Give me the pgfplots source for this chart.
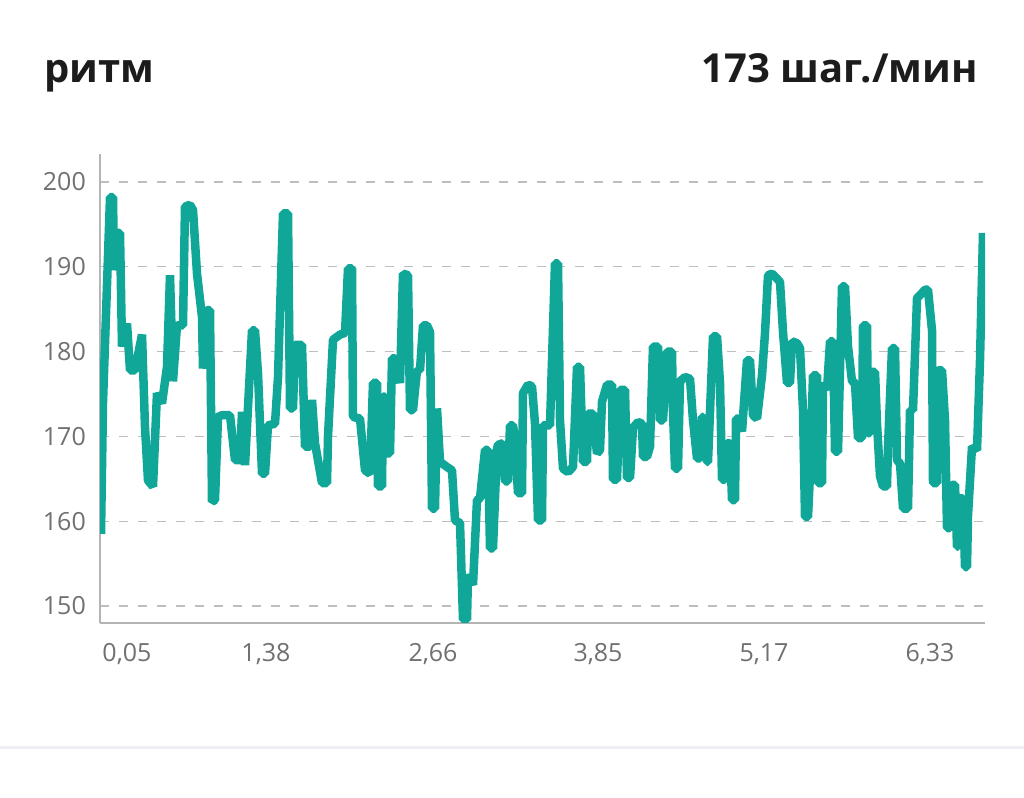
\documentclass[border=0pt]{standalone}
\usepackage{fontspec}
\setmainfont{Open Sans}
\usepackage{pgfplots}
\usepackage{pgfplotstable}
\pgfplotsset{compat=1.18}

\definecolor{cadence}{RGB}{16,167,153}
\definecolor{tickgray}{RGB}{112,112,112}
\definecolor{axisgray}{RGB}{180,180,180}
\definecolor{gridgray}{RGB}{190,190,190}
\definecolor{rulegray}{RGB}{238,240,243}
\definecolor{titleink}{RGB}{28,28,28}

% x = horizontal position on the run (screen units), y = steps per minute
\pgfplotstableread{
x y
101 158.5
103 174
110 198.2
113 198.2
114 189.6
118 194
120 194
122 180.6
127 183.3
130 177.8
135 177.8
142 182
145 171.1
148 164.8
153 164.1
157 175.1
162 173.9
167 178.2
170 189
173 176.5
177 183.1
183 183.1
185 197.1
190 197.3
193 196.7
197 189.2
202 184.1
203 178
207 184.9
210 184.9
212 162.3
215 162.5
218 172.3
222 172.5
230 172.5
235 167.2
240 167.2
242 172.9
245 166.6
252 182.5
255 182.5
258 177.4
262 165.6
265 165.6
268 171.3
275 171.5
278 177
283 196.3
288 196.3
290 173.3
293 173.3
295 180.8
302 180.8
305 168.8
310 168.8
312 174.3
315 169.2
322 164.5
327 164.5
328 170
333 181.4
340 182
345 182.2
348 189.8
352 189.8
353 172.3
360 172.1
365 166
370 165.6
373 176.3
377 176.3
378 164.1
382 164.1
383 174.7
385 174.7
387 168
390 168
392 179.2
395 179.2
400 176.3
403 189.2
408 189
410 173.1
413 173.1
417 177.8
420 177.8
423 183.1
427 183.1
430 182.3
432 161.5
435 161.5
437 173.3
440 167
447 166.4
452 166
455 160.1
460 159.8
463 148.4
467 148.4
468 153.7
473 152.5
477 162.5
480 162.7
485 168.4
488 168.4
490 156.8
493 156.8
497 168.6
498 169
503 169.2
505 164.7
508 164.7
510 171.3
513 171.3
515 169.6
518 163.3
522 163.3
523 175.1
528 176.1
532 175.9
535 171.5
538 160.1
542 160.1
543 171.3
550 171.3
555 190.4
558 190.4
560 171.9
563 166.2
568 165.8
573 166.4
577 178.2
580 178.2
583 167
587 167
588 172.7
593 172.7
597 168
600 168.4
602 174.1
607 176.1
612 176.1
613 164.9
617 164.9
620 175.5
625 175.5
627 165.1
630 165.1
633 171
638 171.7
642 171.5
643 167.6
647 167.6
650 168.8
653 180.6
658 180.6
660 171.9
663 171.9
667 180
672 180
673 172.9
675 166.2
678 166.2
680 176.5
685 177
690 176.8
693 171.9
697 167.4
700 167.4
702 172.3
703 172.3
707 167
708 167
713 181.8
717 181.8
720 176.3
722 164.9
725 164.9
727 169.2
730 169.2
732 162.5
735 162.5
736 172.1
738 172.1
742 170.6
747 179
750 179
753 172.5
757 172.1
762 177.2
765 182.2
768 189
772 189.2
777 188.6
780 188.2
783 182.3
787 176.3
790 176.3
792 181.2
797 181
800 180.4
803 173.1
805 160.5
808 160.5
810 165.6
813 177.2
817 177.2
818 164.5
822 164.5
823 176.3
827 175.5
830 181.2
833 181.2
835 168.2
838 168.2
842 187.7
845 187.7
848 180.6
852 176.5
855 176.3
858 169.8
862 169.8
863 183.1
867 183.1
868 170.4
870 170.4
872 177.6
875 177.6
877 171.5
880 165.3
883 164.1
887 164.1
888 168.8
892 180.4
895 180.4
897 167.2
900 166.8
903 161.5
908 161.5
910 173.1
913 173.1
917 186.3
922 186.9
925 187.3
928 187.3
932 182.5
933 164.5
937 164.5
938 177.8
942 177.8
945 171.9
947 159.2
950 159.2
952 164.3
955 164.3
957 157
958 157
960 162.7
963 162.7
965 154.6
967 154.6
968 160.7
972 168.8
977 168.4
980 179
983 194
}\cadencedata

\begin{document}
\begin{tikzpicture}[x=1pt,y=1pt]
\path[use as bounding box] (0,0) rectangle (1024,797);
\fill[rulegray] (0,48) rectangle (1024,51);
\node[anchor=base west, inner sep=0pt, text=titleink, font=\fontsize{40}{48}\selectfont\bfseries]
  at (44,714) {ритм};
\node[anchor=base east, inner sep=0pt, text=titleink, font=\fontsize{40}{48}\selectfont\bfseries]
  at (978,714) {173 шаг./мин};
\begin{axis}[
  at={(100pt,174pt)}, anchor=south west,
  scale only axis, width=885pt, height=469pt,
  xmin=100, xmax=985, ymin=148, ymax=203.3,
  axis x line*=bottom, axis y line*=left,
  axis line style={-, axisgray, line width=1.5pt},
  xtick={127,266,433,598,764,930},
  xticklabels={{0,05},{1,38},{2,66},{3,85},{5,17},{6,33}},
  ytick={150,160,...,200},
  major tick length=0pt,
  /pgf/number format/assume math mode=true,
  ticklabel style={font=\fontsize{25}{30}\selectfont, text=tickgray, inner sep=0pt},
  yticklabel style={anchor=east, xshift=-14pt},
  xticklabel style={anchor=north, yshift=-20pt},
  ymajorgrids,
  grid style={gridgray, line width=1.3pt, dash pattern=on 9pt off 10pt},
]
\addplot[cadence, line width=8.5pt, line join=bevel, no markers] table {\cadencedata};
\end{axis}
\end{tikzpicture}
\end{document}
